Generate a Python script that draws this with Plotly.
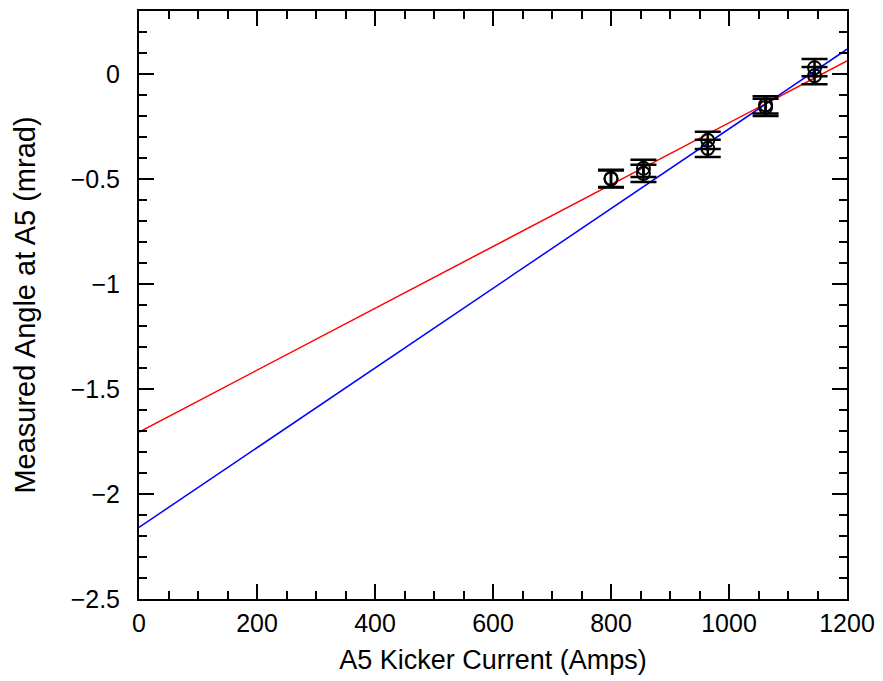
import plotly.graph_objects as go

# Measured data: two sets at each kicker current
current = [800, 855, 964, 1062, 1145]
angle_a = [-0.497, -0.449, -0.316, -0.147, 0.030]
angle_b = [-0.500, -0.473, -0.354, -0.159, -0.008]
err_a = [0.041, 0.041, 0.041, 0.041, 0.041]
err_b = [0.041, 0.041, 0.041, 0.041, 0.041]

# Fit lines (endpoints at 0 and 1200 A)
fit_x = [0, 1200]
fit_red = [-1.705, 0.062]
fit_blue = [-2.159, 0.118]

FONT = "Liberation Sans, Arial, sans-serif"

fig = go.Figure()

fig.add_trace(go.Scatter(x=fit_x, y=fit_red, mode="lines",
                         line=dict(color="#ff0000", width=1.5), showlegend=False))
fig.add_trace(go.Scatter(x=fit_x, y=fit_blue, mode="lines",
                         line=dict(color="#0000ff", width=1.5), showlegend=False))

for ys, es in [(angle_a, err_a), (angle_b, err_b)]:
    fig.add_trace(go.Scatter(
        x=current, y=ys, mode="markers",
        marker=dict(symbol="circle-open", size=13, color="black", line=dict(width=2)),
        error_y=dict(type="data", array=es, visible=True, color="black",
                     thickness=2.5, width=13),
        showlegend=False))

axis_common = dict(
    showgrid=False, zeroline=False, showline=True, linecolor="black", linewidth=2,
    mirror="allticks", ticks="inside", ticklen=15, tickwidth=2, tickcolor="black",
    tickfont=dict(family=FONT, size=25, color="black"),
)

fig.update_layout(
    width=883, height=681,
    margin=dict(l=131, r=44, t=1, b=90),
    paper_bgcolor="white", plot_bgcolor="white",
    xaxis=dict(range=[0, 1200], tickvals=[0, 200, 400, 600, 800, 1000, 1200],
               ticklabelstandoff=1,
               minor=dict(dtick=50, ticks="inside", ticklen=8, tickwidth=2, tickcolor="black"),
               title=dict(text="A5 Kicker Current (Amps)", standoff=14,
                          font=dict(family=FONT, size=27, color="black")),
               **axis_common),
    yaxis=dict(range=[-2.5, 0.3], tickvals=[-2.5, -2, -1.5, -1, -0.5, 0],
               ticklabelstandoff=12,
               minor=dict(dtick=0.1, ticks="inside", ticklen=8, tickwidth=2, tickcolor="black"),
               title=dict(text="Measured Angle at A5 (mrad)", standoff=26,
                          font=dict(family=FONT, size=29, color="black")),
               **axis_common),
)

fig.write_html("out.html")
